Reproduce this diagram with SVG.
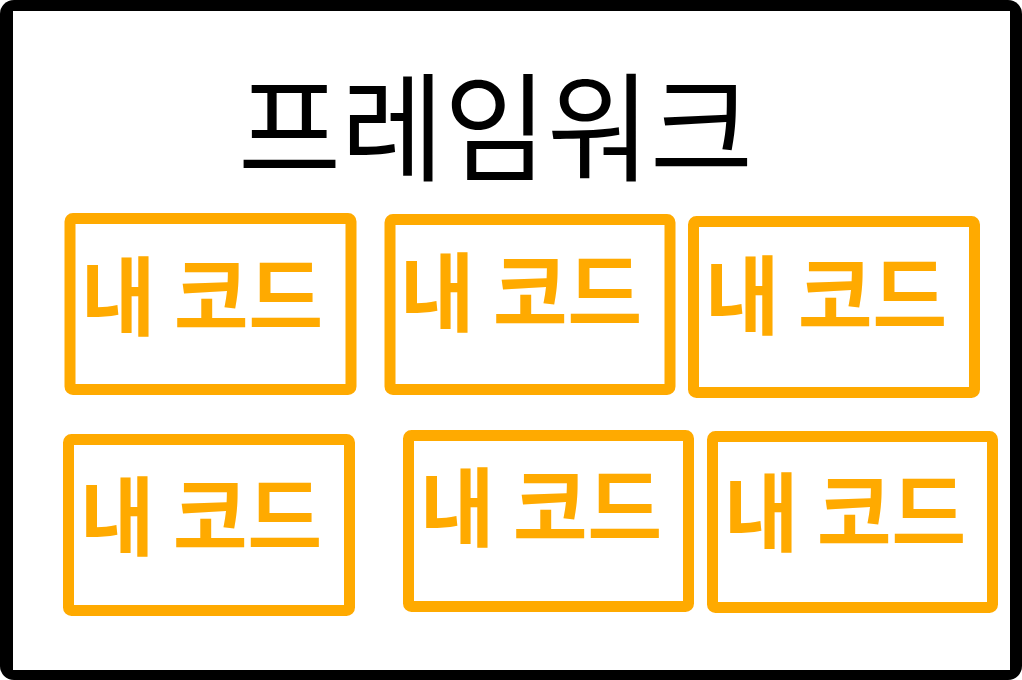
<svg xmlns="http://www.w3.org/2000/svg" width="1022" height="680" viewBox="0 0 1022 680">
<style>
.box{fill:none;stroke:#FFAA00;stroke-width:11;stroke-linejoin:round}
.lbl{font-family:"Noto Sans CJK KR","Noto Sans",sans-serif;font-size:86px;font-weight:bold;fill:#FFAA00}
.title{font-family:"Noto Sans CJK KR","Noto Sans",sans-serif;font-size:118px;fill:#000}
</style>
<rect x="0" y="0" width="1022" height="680" rx="14" fill="#000"/>
<rect x="13" y="11" width="997" height="659" fill="#fff"/>
<g id="title"><text class="title" x="238" y="172" textLength="515" lengthAdjust="spacingAndGlyphs">프레임워크</text></g>
<g id="box1"><rect class="box" x="70" y="218.5" width="281" height="171" rx="3"/><text class="lbl" x="81" y="329" textLength="242" lengthAdjust="spacingAndGlyphs">내 코드</text></g>
<g id="box2"><rect class="box" x="390" y="219.5" width="280" height="170" rx="3"/><text class="lbl" x="400" y="325" textLength="242" lengthAdjust="spacingAndGlyphs">내 코드</text></g>
<g id="box3"><rect class="box" x="693.5" y="221.5" width="281" height="171" rx="3"/><text class="lbl" x="705" y="328" textLength="242" lengthAdjust="spacingAndGlyphs">내 코드</text></g>
<g id="box4"><rect class="box" x="68.5" y="439.5" width="281" height="171" rx="3"/><text class="lbl" x="80" y="549" textLength="242" lengthAdjust="spacingAndGlyphs">내 코드</text></g>
<g id="box5"><rect class="box" x="408.5" y="435.5" width="280" height="171" rx="3"/><text class="lbl" x="420" y="540" textLength="242" lengthAdjust="spacingAndGlyphs">내 코드</text></g>
<g id="box6"><rect class="box" x="712.5" y="436.5" width="280" height="171" rx="3"/><text class="lbl" x="724" y="545" textLength="242" lengthAdjust="spacingAndGlyphs">내 코드</text></g>
</svg>
